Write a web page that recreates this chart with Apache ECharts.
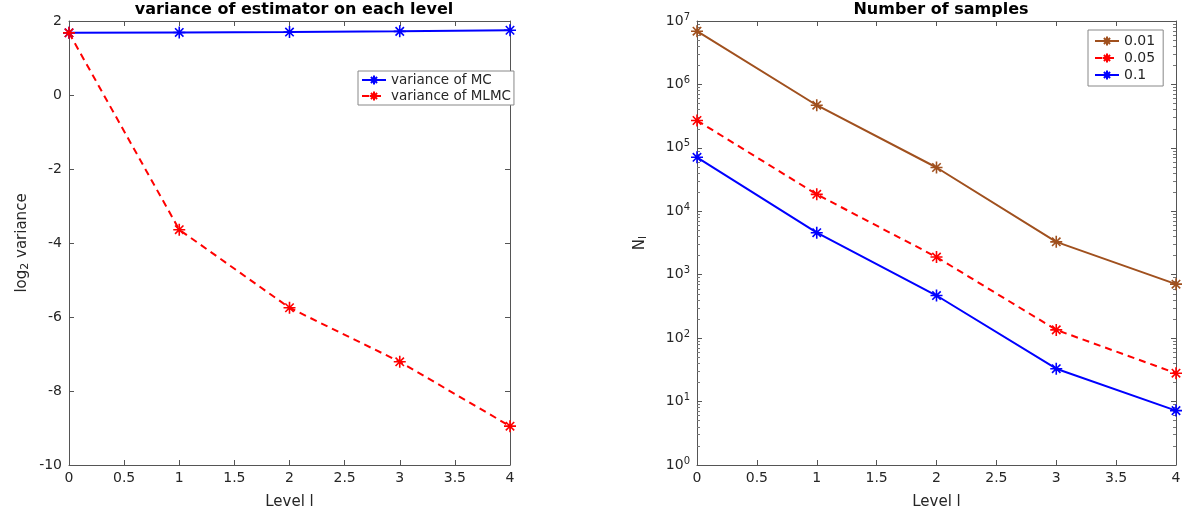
<!DOCTYPE html>
<html>
<head>
<meta charset="utf-8">
<script src="https://cdn.jsdelivr.net/npm/echarts@6/dist/echarts.min.js"></script>
<style>
  html, body { margin: 0; padding: 0; background: #fff; }
  #chart { width: 1189px; height: 517px; }
</style>
</head>
<body>
<div id="chart"></div>
<script>
// data
const levels = [0, 1, 2, 3, 4]
const mcVariance = [1.68, 1.69, 1.70, 1.72, 1.75]
const mlmcVariance = [1.68, -3.64, -5.75, -7.21, -8.95]
const samples001 = [6.9e6, 4.7e5, 4.9e4, 3.3e3, 710]
const samples005 = [2.7e5, 1.85e4, 1.9e3, 135, 28]
const samples01 = [7.1e4, 4.6e3, 470, 33, 7.2]

const chart = echarts.init(document.getElementById('chart'))

const textColor = '#262626'
const font = 'DejaVu Sans'
const star = 'path://M0,-1L0,1M-1,0L1,0M-0.7,-0.7L0.7,0.7M-0.7,0.7L0.7,-0.7'

const pairs = (ys) => levels.map((x, i) => [x, ys[i]])

const boxAxis = (gridIndex, position, extra) => Object.assign({
  gridIndex: gridIndex,
  position: position,
  axisLine: {show: true, onZero: false, lineStyle: {color: '#555', width: 1}},
  axisTick: {show: true, inside: true, length: 5, lineStyle: {color: '#555'}},
  axisLabel: {show: false},
  splitLine: {show: false}
}, extra)

const lineSeries = (name, x, y, ys, color, dashed) => ({
  name: name,
  type: 'line',
  xAxisIndex: x,
  yAxisIndex: y,
  data: pairs(ys),
  symbol: star,
  symbolSize: 12,
  lineStyle: {color: color, width: 2, type: dashed ? [7, 5] : 'solid'},
  itemStyle: {color: color, borderColor: color, borderWidth: 1.6},
  emphasis: {disabled: true},
  animation: false
})

const labelStyle = {color: textColor, fontFamily: font, fontSize: 14}

const option = {
  animation: false,
  title: [
    {text: 'variance of estimator on each level', left: 289, top: -3, textAlign: 'center',
      textStyle: {fontFamily: font, fontSize: 16, fontWeight: 'bold', color: '#000'}},
    {text: 'Number of samples', left: 936, top: -3, textAlign: 'center',
      textStyle: {fontFamily: font, fontSize: 16, fontWeight: 'bold', color: '#000'}}
  ],
  grid: [
    {left: 69, top: 21, width: 441, height: 444},
    {left: 697, top: 21, width: 479, height: 444}
  ],
  legend: [
    {
      data: ['variance of MC', 'variance of MLMC'],
      orient: 'vertical', left: 358, top: 71,
      itemWidth: 24, itemHeight: 11, itemGap: 2,
      padding: [2, 3, 2, 3],
      borderColor: '#888', borderWidth: 1, backgroundColor: '#fff',
      textStyle: {color: textColor, fontFamily: font, fontSize: 13.5},
      selectedMode: false
    },
    {
      data: ['0.01', '0.05', '0.1'],
      orient: 'vertical', left: 1088, top: 30,
      itemWidth: 24, itemHeight: 11, itemGap: 3,
      padding: [4, 8, 4, 6],
      borderColor: '#888', borderWidth: 1, backgroundColor: '#fff',
      textStyle: {color: textColor, fontFamily: font, fontSize: 14},
      selectedMode: false
    }
  ],
  xAxis: [
    boxAxis(0, 'bottom', {
      type: 'value', min: 0, max: 4, interval: 0.5,
      axisLabel: Object.assign({show: true, margin: 6}, labelStyle),
      name: 'Level l', nameLocation: 'middle', nameGap: 30,
      nameTextStyle: {color: textColor, fontFamily: font, fontSize: 15}
    }),
    boxAxis(0, 'top', {type: 'value', min: 0, max: 4, interval: 0.5}),
    boxAxis(1, 'bottom', {
      type: 'value', min: 0, max: 4, interval: 0.5,
      axisLabel: Object.assign({show: true, margin: 6}, labelStyle),
      name: 'Level l', nameLocation: 'middle', nameGap: 30,
      nameTextStyle: {color: textColor, fontFamily: font, fontSize: 15}
    }),
    boxAxis(1, 'top', {type: 'value', min: 0, max: 4, interval: 0.5})
  ],
  yAxis: [
    boxAxis(0, 'left', {
      type: 'value', min: -10, max: 2, interval: 2,
      axisLabel: Object.assign({show: true, margin: 7}, labelStyle),
      name: 'log{sub|2} variance', nameLocation: 'middle', nameGap: 38,
      nameTextStyle: {
        color: textColor, fontFamily: font, fontSize: 15,
        rich: {sub: {fontSize: 11, fontFamily: font, color: textColor, verticalAlign: 'bottom', padding: [6, 0, 0, 0]}}
      }
    }),
    boxAxis(0, 'right', {type: 'value', min: -10, max: 2, interval: 2}),
    boxAxis(1, 'left', {
      type: 'log', logBase: 10, min: 1, max: 1e7,
      minorTick: {show: true, splitNumber: 9, length: 3, lineStyle: {color: '#777'}},
      axisLabel: {
        show: true, margin: 7,
        formatter: (v) => '{b|10}{s|' + Math.round(Math.log10(v)) + '}',
        rich: {
          b: {color: textColor, fontFamily: font, fontSize: 14},
          s: {color: textColor, fontFamily: font, fontSize: 10, verticalAlign: 'top', padding: [0, 0, 8, 0]}
        }
      },
      name: 'N{sub|l}', nameLocation: 'middle', nameGap: 48,
      nameTextStyle: {
        color: textColor, fontFamily: font, fontSize: 15,
        rich: {sub: {fontSize: 11, fontFamily: font, color: textColor, verticalAlign: 'bottom', padding: [6, 0, 0, 0]}}
      }
    }),
    boxAxis(1, 'right', {
      type: 'log', logBase: 10, min: 1, max: 1e7,
      minorTick: {show: true, splitNumber: 9, length: 3, lineStyle: {color: '#777'}}
    })
  ],
  series: [
    lineSeries('variance of MC', 0, 0, mcVariance, '#0000ff', false),
    lineSeries('variance of MLMC', 0, 0, mlmcVariance, '#ff0000', true),
    lineSeries('0.01', 2, 2, samples001, '#a0501e', false),
    lineSeries('0.05', 2, 2, samples005, '#ff0000', true),
    lineSeries('0.1', 2, 2, samples01, '#0000ff', false)
  ]
}

chart.setOption(option)
</script>
</body>
</html>
